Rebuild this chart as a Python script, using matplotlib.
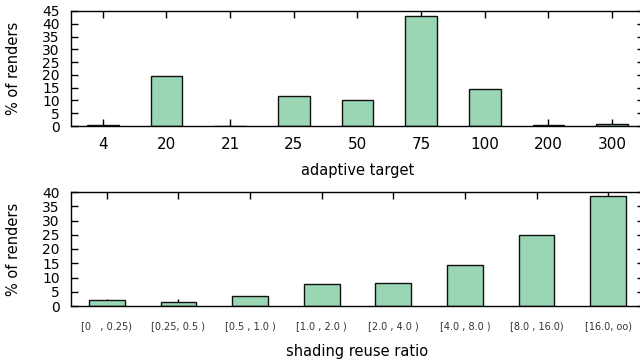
import matplotlib
matplotlib.use("Agg")
import matplotlib.pyplot as plt
import numpy as np

top_categories = ["4", "20", "21", "25", "50", "75", "100", "200", "300"]
top_values = [0.2, 19.5, 0.1, 11.7, 10.2, 43.0, 14.3, 0.3, 0.6]

bottom_categories = ["[0   , 0.25)", "[0.25, 0.5 )", "[0.5 , 1.0 )", "[1.0 , 2.0 )",
                     "[2.0 , 4.0 )", "[4.0 , 8.0 )", "[8.0 , 16.0)", "[16.0, oo)"]
bottom_values = [2.0, 1.3, 3.4, 7.6, 8.0, 14.3, 24.8, 38.7]

top_yticks = list(range(0, 46, 5))
bottom_yticks = list(range(0, 41, 5))

BAR = "#9AD5B4"
W, H = 640, 364
fig = plt.figure(figsize=(W / 100, H / 100), dpi=100)

def place(l, t, r, b):
    return fig.add_axes([l / W, 1 - b / H, (r - l) / W, (b - t) / H])

ax1 = place(71, 11, 644, 126)
ax2 = place(71, 192, 644, 306)

def style(ax, cats, vals, yticks, ymax, xlabel, xfs, xcolor):
    x = np.arange(len(cats))
    ax.bar(x, vals, width=0.5, color=BAR, edgecolor="#111111", linewidth=1.0, zorder=2)
    ax.set_xlim(-0.5, len(cats) - 0.5)
    ax.set_ylim(0, ymax)
    ax.set_xticks(x)
    ax.set_xticklabels(cats, fontsize=xfs, color=xcolor)
    ax.set_yticks(yticks)
    ax.set_yticklabels([str(v) for v in yticks], fontsize=10)
    ax.tick_params(axis="both", direction="in", length=5, width=1, top=True, right=True, zorder=3)
    ax.tick_params(axis="y", pad=8)
    for s in ax.spines.values():
        s.set_linewidth(1.0)
        s.set_zorder(4)
    ax.set_ylabel("% of renders", fontsize=10.5, labelpad=15)
    ax.set_xlabel(xlabel, fontsize=10.5)

style(ax1, top_categories, top_values, top_yticks, 45, "adaptive target", 11, "black")
ax1.tick_params(axis="x", pad=8)
ax1.xaxis.labelpad = 8
style(ax2, bottom_categories, bottom_values, bottom_yticks, 40, "shading reuse ratio", 7, "#333333")
ax2.tick_params(axis="x", pad=11)
ax2.xaxis.labelpad = 9

fig.savefig("out.png", dpi=100)
